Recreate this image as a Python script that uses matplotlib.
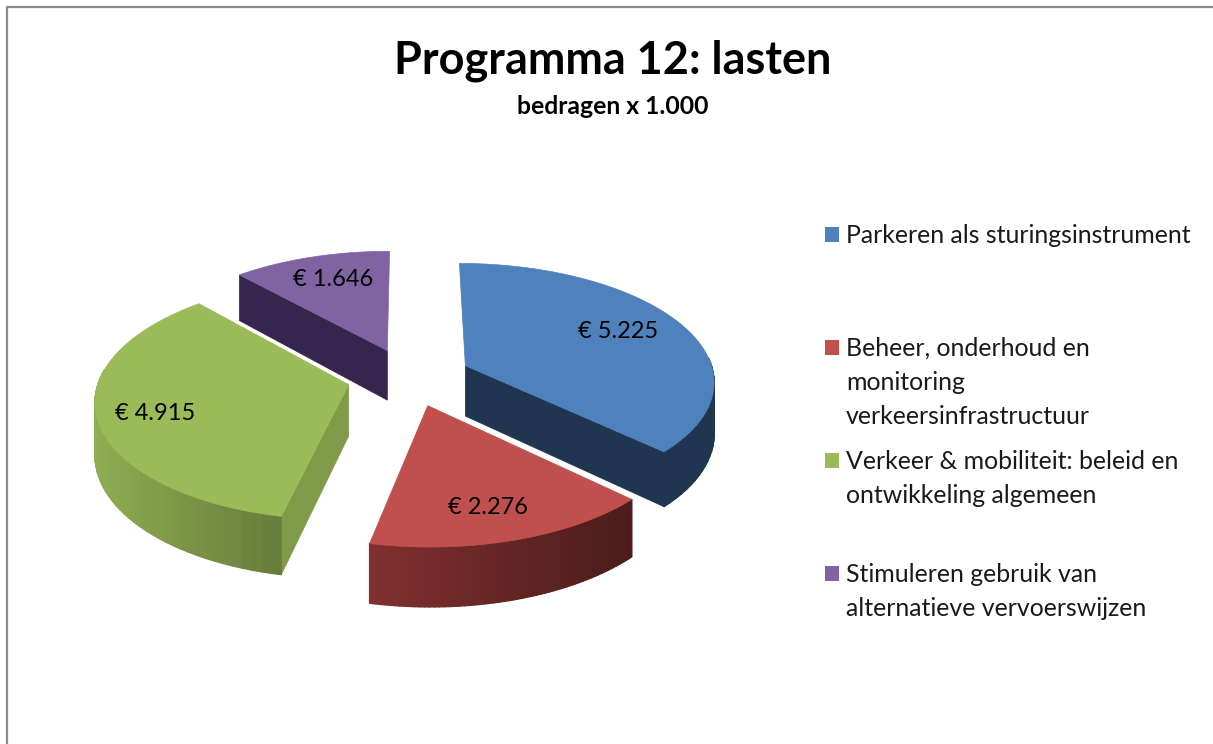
import numpy as np
import matplotlib
matplotlib.use("Agg")
import matplotlib.pyplot as plt
from matplotlib.patches import Polygon, Rectangle

plt.rcParams['font.family'] = ['Lato', 'DejaVu Sans']

labels = ["Parkeren als sturingsinstrument",
          "Beheer, onderhoud en\nmonitoring\nverkeersinfrastructuur",
          "Verkeer & mobiliteit: beleid en\nontwikkeling algemeen",
          "Stimuleren gebruik van\nalternatieve vervoerswijzen"]
values = [5225, 2276, 4915, 1646]
value_labels = ["€ 5.225", "€ 2.276", "€ 4.915", "€ 1.646"]

top_colors = ["#4f81bd", "#c0504d", "#9bbb59", "#8064a2"]
rim_left = ["#1f3550", "#80302f", "#8fad53", "#36254d"]
rim_right = ["#1f3550", "#4a1c1a", "#667c3a", "#36254d"]
cut_colors = ["#1f3550", "#4a1c1a", "#7f9a48", "#36254d"]

label_pos = [(618, 331), (488, 508), (155, 414), (333, 279)]
legend_y = [234, 347, 460, 573]

# pie geometry, in pixels
cx, cy = 409, 377
radius = 249
explode = 62
squash = 0.47
persp = 0.00048
depth = 51


def project(u, v, drop=0.0):
    s = 1.0 / (1.0 + persp * v)
    return cx + s * u, cy - s * squash * v + drop * depth * s


def rgb(c):
    return np.array(matplotlib.colors.to_rgb(c))


fig = plt.figure(figsize=(12.13, 7.44), dpi=100)
ax = fig.add_axes([0, 0, 1, 1])
ax.set_xlim(0, 1213)
ax.set_ylim(744, 0)
ax.axis('off')

# border of the chart area
ax.plot([6.5, 6.5, 1213], [744, 7, 7], color="#8c8c8c", lw=1.6)

edges = np.cumsum([0] + values) / sum(values) * 2 * np.pi

# far slices first
for i in [3, 0, 2, 1]:
    t0, t1 = edges[i], edges[i + 1]
    mid = (t0 + t1) / 2
    ou, ov = explode * np.sin(mid), explode * np.cos(mid)
    th = np.linspace(t0, t1, 60)
    us = ou + radius * np.sin(th)
    vs = ov + radius * np.cos(th)

    # cut faces, only the ones turned to the viewer
    for t, seen in [(t0, np.sin(t0) < -0.01), (t1, np.sin(t1) > 0.01)]:
        if not seen:
            continue
        eu, ev = ou + radius * np.sin(t), ov + radius * np.cos(t)
        quad = [project(ou, ov), project(eu, ev), project(eu, ev, 1), project(ou, ov, 1)]
        ax.add_patch(Polygon(quad, closed=True, fc=cut_colors[i], ec=cut_colors[i], lw=0.5))

    # outer rim, shaded by position from left to right, back part is hidden
    xs = np.array([project(u, v)[0] for u, v in zip(us, vs)])
    x0, x1 = xs.min(), xs.max()
    for j in range(len(th) - 1):
        if np.cos(th[j]) > 0.1:
            continue
        f = ((xs[j] + xs[j + 1]) / 2 - x0) / (x1 - x0)
        col = rgb(rim_left[i]) * (1 - f) + rgb(rim_right[i]) * f
        quad = [project(us[j], vs[j]), project(us[j + 1], vs[j + 1]),
                project(us[j + 1], vs[j + 1], 1), project(us[j], vs[j], 1)]
        ax.add_patch(Polygon(quad, closed=True, fc=col, ec=col, lw=1.0, joinstyle='round'))

    # top surface
    pts = [project(ou, ov)] + [project(u, v) for u, v in zip(us, vs)]
    ax.add_patch(Polygon(pts, closed=True, fc=top_colors[i], ec=top_colors[i], lw=0.5))

for txt, (x, y) in zip(value_labels, label_pos):
    ax.text(x, y, txt, ha='center', va='center', fontsize=17, color="black")

ax.text(613, 61, "Programma 12: lasten", ha='center', va='center',
        fontsize=32.4, fontweight='bold', color="black")
ax.text(613, 107, "bedragen x 1.000", ha='center', va='center',
        fontsize=17.8, fontweight='bold', color="black")

for lab, y, col in zip(labels, legend_y, top_colors):
    ax.add_patch(Rectangle((825, y - 7), 14, 14.5, fc=col, ec='none'))
    ax.text(846, y - 10, lab, ha='left', va='top', fontsize=17.9, color="#1a1a1a", linespacing=1.57)

fig.savefig("out.png", dpi=100)
